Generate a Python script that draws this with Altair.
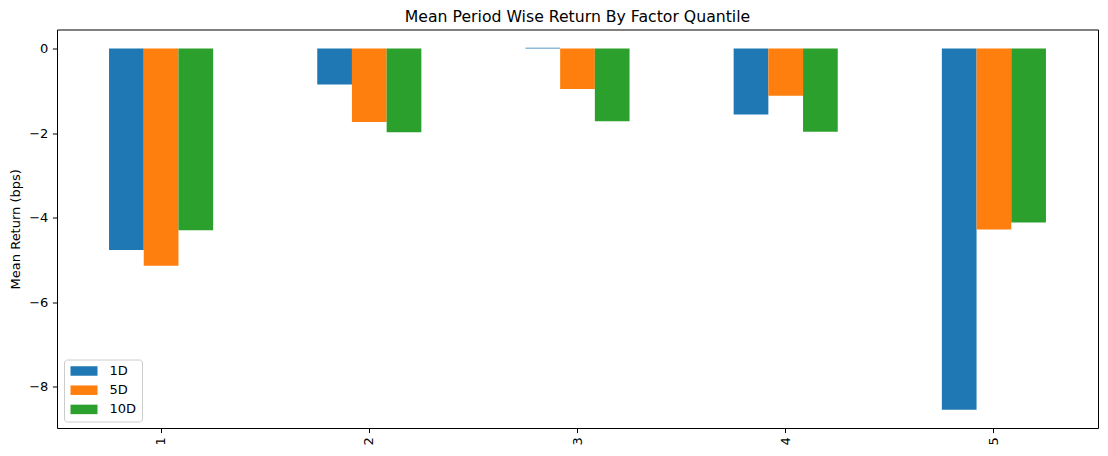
import altair as alt
import pandas as pd

quantiles = ["1", "2", "3", "4", "5"]
periods = ["1D", "5D", "10D"]
ret_1d = [-4.77, -0.85, 0.02, -1.56, -8.55]
ret_5d = [-5.14, -1.74, -0.96, -1.12, -4.28]
ret_10d = [-4.30, -1.98, -1.72, -1.97, -4.12]
colors = ["#1f77b4", "#ff7f0e", "#2ca02c"]
y_ticks = [-8, -6, -4, -2, 0]

rows = []
for series_name, vals in zip(periods, [ret_1d, ret_5d, ret_10d]):
    for q, v in zip(quantiles, vals):
        rows.append({"quantile": q, "period": series_name, "ret": v})
df = pd.DataFrame(rows)

FONT = "DejaVu Sans"

chart = alt.Chart(df).mark_bar().encode(
    x=alt.X("quantile:O", sort=quantiles,
            scale=alt.Scale(paddingInner=0.5, paddingOuter=0.25),
            axis=alt.Axis(title=None, labelAngle=270, labelPadding=4, tickSize=4.6,
                          tickWidth=1, tickColor="black", domain=False,
                          labelFontSize=13, labelColor="black", labelFont=FONT)),
    xOffset=alt.XOffset("period:N", sort=periods,
                        scale=alt.Scale(domain=periods, paddingInner=0, paddingOuter=0)),
    y=alt.Y("ret:Q",
            scale=alt.Scale(domain=[-8.98, 0.45], nice=False, zero=False),
            axis=alt.Axis(title="Mean Return (bps)", values=y_ticks, grid=False,
                          tickSize=4.6, tickWidth=1, tickColor="black", domain=False,
                          labelPadding=4.5, labelFontSize=13, labelColor="black",
                          labelFont=FONT, titleFont=FONT, titleFontSize=13,
                          titleFontWeight="normal", titleColor="black", titlePadding=6)),
    y2=alt.datum(0),
    color=alt.Color("period:N", sort=periods,
                    scale=alt.Scale(domain=periods, range=colors),
                    legend=alt.Legend(title=None, orient="bottom-left", offset=7,
                                      symbolType="M-1,-0.95H4.4V0.95H-1Z",
                                      symbolSize=100, symbolStrokeWidth=0,
                                      labelFontSize=13, labelFont=FONT, labelColor="black",
                                      labelOffset=27.5, rowPadding=5.2, padding=5,
                                      strokeColor="#cccccc", fillColor="white",
                                      cornerRadius=3)),
).properties(
    width=1041,
    height=398.5,
    title=alt.TitleParams("Mean Period Wise Return By Factor Quantile", font=FONT,
                          fontSize=15.7, fontWeight="normal", color="black",
                          anchor="middle", baseline="alphabetic", offset=7, dy=15),
    padding={"left": 57, "top": 29.5, "right": 10, "bottom": 28},
    autosize="none",
).configure_view(
    stroke="black", strokeWidth=1
)

chart.save("out.html", embed_options={"renderer": "svg", "actions": False})
